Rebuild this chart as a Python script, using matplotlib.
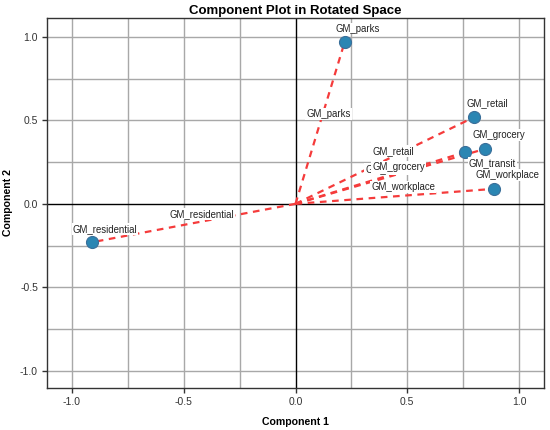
import numpy as np
import matplotlib.pyplot as plt

plt.rcParams['font.family'] = ['Liberation Sans', 'DejaVu Sans']

# loadings
variables = ['GM_retail', 'GM_grocery', 'GM_parks', 'GM_transit', 'GM_workplace', 'GM_residential']
comp1 = [0.80, 0.85, 0.22, 0.76, 0.89, -0.91]
comp2 = [0.52, 0.33, 0.97, 0.31, 0.09, -0.23]

# label offsets (pixels) for the point labels, SPSS shuffles the crowded ones
point_offsets = {'GM_transit': (27, -11)}
# draw order for the line labels: transit first so grocery covers it
line_label_order = ['GM_parks', 'GM_residential', 'GM_transit', 'GM_grocery', 'GM_retail', 'GM_workplace']

fig = plt.figure(figsize=(5.5, 4.3), dpi=100)
ax = fig.add_axes([47/550, 1 - 388/430, (544 - 47)/550, (388 - 18)/430])

ax.set_xlim(-1.112, 1.112)
ax.set_ylim(-1.104, 1.114)

grid_vals = np.arange(-1.0, 1.01, 0.25)
for v in grid_vals:
    if abs(v) < 1e-9:
        continue
    ax.axvline(v, color='#a8a8a8', lw=1.0, zorder=0)
    ax.axhline(v, color='#a8a8a8', lw=1.0, zorder=0)
ax.axvline(0, color='black', lw=1.0, zorder=1)
ax.axhline(0, color='black', lw=1.0, zorder=1)

for x, y in zip(comp1, comp2):
    ax.plot([0, x], [0, y], color='#f53b3b', lw=1.6, ls=(0, (3, 2.5)), zorder=2)

ax.scatter(comp1, comp2, s=75, color='#2b86b3', edgecolor='#3a6f9a', linewidth=0.8, zorder=4)

# line labels at the middle of each line
for name in line_label_order:
    i = variables.index(name)
    ax.annotate(name, (comp1[i] / 2, comp2[i] / 2), xytext=(6, 6.5), textcoords='offset points',
                ha='center', va='center', fontsize=6.9, color='#222222', zorder=3,
                bbox=dict(boxstyle='square,pad=0.1', fc='white', ec='none'))

# point labels
for name, x, y in zip(variables, comp1, comp2):
    dx, dy = point_offsets.get(name, (13, 13.5))
    ax.annotate(name, (x, y), xytext=(dx * 0.72, dy * 0.72), textcoords='offset points',
                ha='center', va='center', fontsize=6.9, color='#222222', zorder=5,
                bbox=dict(boxstyle='square,pad=0.1', fc='white', ec='none'))

ax.set_xticks([-1.0, -0.5, 0.0, 0.5, 1.0])
ax.set_yticks([-1.0, -0.5, 0.0, 0.5, 1.0])
ax.set_xticklabels(['-1.0', '-0.5', '0.0', '0.5', '1.0'])
ax.set_yticklabels(['-1.0', '-0.5', '0.0', '0.5', '1.0'])
ax.tick_params(direction='out', length=3.5, width=1, color='#333333', labelsize=7.5,
               labelcolor='#333333', pad=3)
for s in ax.spines.values():
    s.set_color('#333333')
    s.set_linewidth(1.0)

ax.set_title('Component Plot in Rotated Space', fontsize=9.5, fontweight='bold', pad=3)
ax.set_xlabel('Component 1', fontsize=7.6, fontweight='bold', labelpad=7)
ax.set_ylabel('Component 2', fontsize=7.6, fontweight='bold', labelpad=5)

fig.savefig('out.png', dpi=100)
